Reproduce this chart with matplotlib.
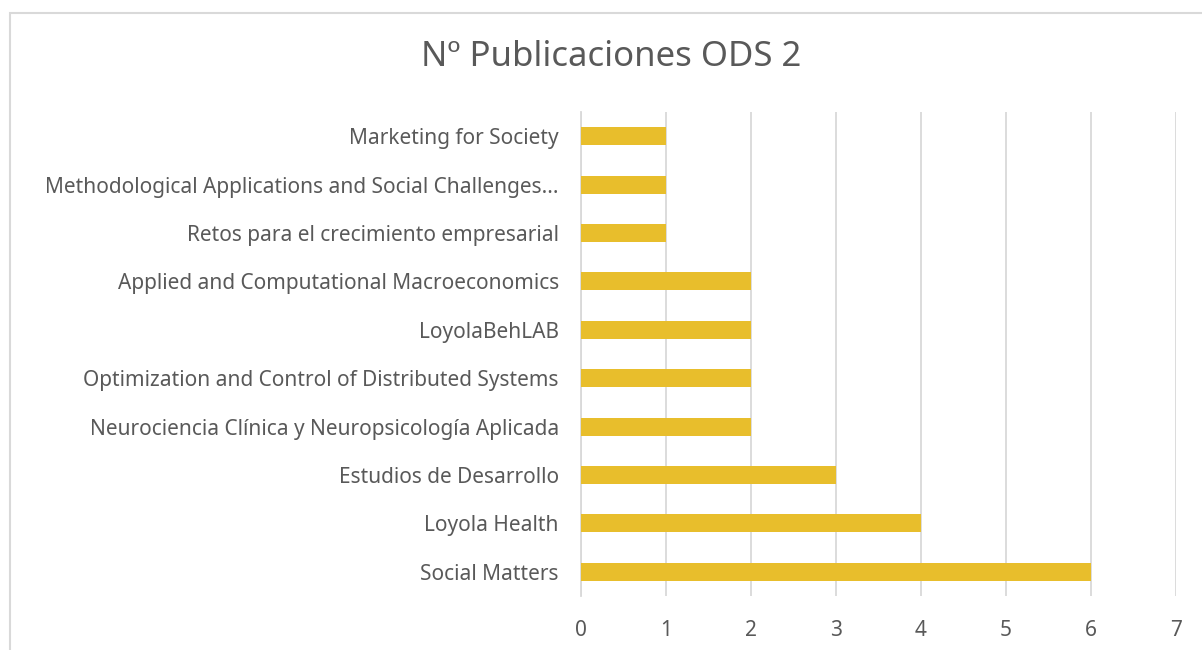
import matplotlib.pyplot as plt
from matplotlib.patches import Rectangle

# Data (bottom to top as drawn)
groups = [
    "Social Matters",
    "Loyola Health",
    "Estudios de Desarrollo",
    "Neurociencia Clínica y Neuropsicología Aplicada",
    "Optimization and Control of Distributed Systems",
    "LoyolaBehLAB",
    "Applied and Computational Macroeconomics",
    "Retos para el crecimiento empresarial",
    "Methodological Applications and Social Challenges...",
    "Marketing for Society",
]
n_pubs = [6, 4, 3, 2, 2, 2, 2, 1, 1, 1]
x_ticks = [0, 1, 2, 3, 4, 5, 6, 7]

BAR_COLOR = "#E8BE2C"
GRID_COLOR = "#D9D9D9"
TEXT_COLOR = "#595959"

plt.rcParams['font.family'] = ['Noto Sans', 'DejaVu Sans']

fig = plt.figure(figsize=(12.02, 6.5), dpi=100)
ax = fig.add_axes([581 / 1202, 1 - 596 / 650, (1176 - 581) / 1202, (596 - 112) / 650])

ypos = list(range(len(groups)))
ax.barh(ypos, n_pubs, height=0.37, color=BAR_COLOR, zorder=3)

ax.set_xlim(0, 7)
ax.set_ylim(-0.5, len(groups) - 0.5)
ax.set_xticks(x_ticks)
ax.set_xticklabels([str(t) for t in x_ticks])
ax.set_yticks(ypos)
ax.set_yticklabels(groups)
ax.tick_params(axis='both', length=0, labelsize=15, colors=TEXT_COLOR)
ax.tick_params(axis='x', pad=17)
ax.tick_params(axis='y', pad=16)

ax.grid(axis='x', color=GRID_COLOR, linewidth=1.3, zorder=0)
for s in ['top', 'right', 'bottom']:
    ax.spines[s].set_visible(False)
ax.spines['left'].set_color(GRID_COLOR)
ax.spines['left'].set_linewidth(1.3)

fig.text(611 / 1202, 1 - 57 / 650, "Nº Publicaciones ODS 2", ha='center', va='center',
         fontsize=25, color=TEXT_COLOR)

# chart frame
frame = Rectangle((10 / 1202, -0.1), 1.2, 1 - 13 / 650 + 0.1, transform=fig.transFigure,
                  fill=False, edgecolor=GRID_COLOR, linewidth=1.5, clip_on=False)
fig.patches.append(frame)

fig.savefig("out.png", dpi=100)
